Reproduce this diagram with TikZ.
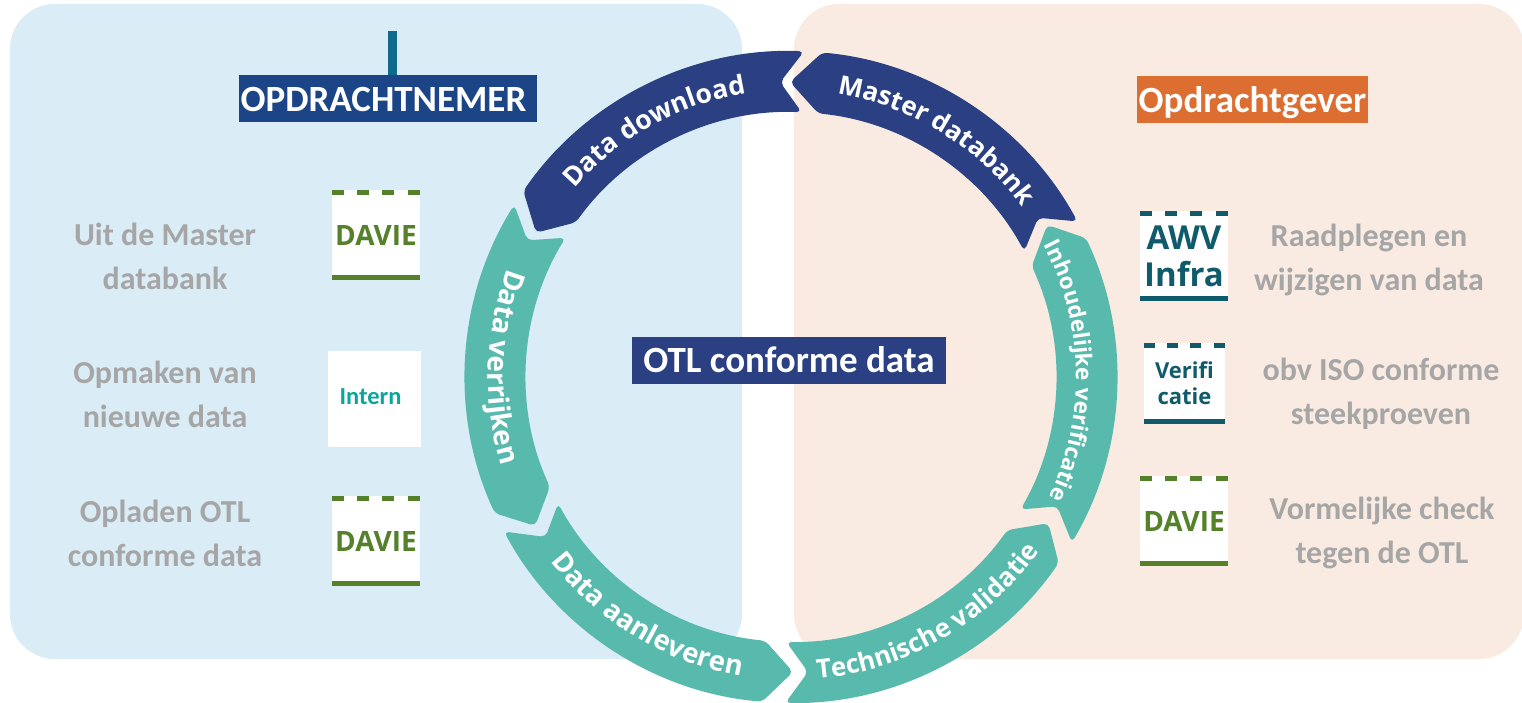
\documentclass[tikz,border=0pt]{standalone}
\usepackage{fontspec}
\setmainfont{Carlito}
\newfontfamily\ringf{Open Sans}
\usetikzlibrary{decorations.text}
\definecolor{bluebg}{HTML}{DAECF6}
\definecolor{peachbg}{HTML}{F9EBE2}
\definecolor{navy}{HTML}{2A4083}
\definecolor{ltnavy}{HTML}{1C4587}
\definecolor{teal2}{HTML}{57BAAD}
\definecolor{orng}{HTML}{DC6E32}
\definecolor{tick}{HTML}{0F6A8C}
\definecolor{greyt}{HTML}{A6A6A6}
\definecolor{davie}{HTML}{55812A}
\definecolor{awv}{HTML}{0F5A6B}
\definecolor{intern}{HTML}{0CA59C}
\tikzset{
  x=1pt,y=1pt,
  panel/.style={rounded corners=45},
  banner/.style={inner sep=0,minimum height=47,text=white,text depth=0pt,font=\bfseries\fontsize{37}{37}\selectfont,anchor=center},
  grey/.style={text=greyt,align=center,font=\bfseries\fontsize{32}{44}\selectfont,inner sep=0},
  icon/.style={fill=white,inner sep=0,align=center},
  ringnavy/.style={fill=navy,rounded corners=5},
  ringteal/.style={fill=teal2,rounded corners=5},
  topbar/.style={line width=5,dash pattern=on 12 off 13.33},
  botbar/.style={line width=5}
}
\newcommand{\ringlabel}[5]{%
  \path[decorate,decoration={text along path,text align=center,
    text={|\ringf\bfseries\fontsize{#5}{#5}\selectfont\color{white}|#4}}]
    (#1:#3) arc[start angle=#1,end angle=#2,radius=#3];}
\begin{document}
\begin{tikzpicture}
\useasboundingbox (0,0) rectangle (1522,702);
\fill[white] (0,0) rectangle (1522,702);
% panels (y = 702 - image y)
\fill[bluebg,panel] (10,43) rectangle (742,698);
\fill[peachbg,panel] (794,43) rectangle (1524,698);
\fill[tick] (388,627) rectangle (397,671);
% banners
\node[banner,fill=ltnavy,minimum width=298,text height=26.4pt] (nemer) at (388,603.5) {OPDRACHTNEMER\hspace*{9pt}};
\node[banner,fill=orng,minimum width=231,text height=26.4pt] (gever) at (1252.5,602.5) {Opdrachtgever};
\node[banner,fill=navy,minimum width=314,text height=24.4pt] (otl) at (789,341.5) {OTL conforme data};
% ring
\begin{scope}[shift={(791,325)}]
\fill[ringnavy] (87.7:326) arc[start angle=87.7,end angle=145.2,radius=326] -- (150.5:293) -- (144.3:265) arc[start angle=144.3,end angle=87.7,radius=265] -- (92.1:295) -- cycle;
\fill[ringnavy] (90.2:295) -- (84.5:326) arc[start angle=84.5,end angle=28.5,radius=326] -- (32.8:294) -- (28.3:265) arc[start angle=28.3,end angle=84.1,radius=265] -- cycle;
\fill[ringteal] (30.7:298) -- (25.2:326) arc[start angle=25.2,end angle=-30.5,radius=326] -- (-25.9:296) -- (-30:265) arc[start angle=-30,end angle=24.7,radius=265] -- cycle;
\fill[ringteal] (-29.6:296) -- (-34.8:326) arc[start angle=-34.8,end angle=-91,radius=326] -- (-86.7:295.5) -- (-91:265) arc[start angle=-91,end angle=-35.3,radius=265] -- cycle;
\fill[ringteal] (-89.6:295) -- (-95.6:265) arc[start angle=-95.6,end angle=-151.5,radius=265] -- (-146.9:293) -- (-151.7:326) arc[start angle=-151.7,end angle=-95.1,radius=326] -- cycle;
\fill[ringteal] (-149.8:296) -- (-155.5:265) arc[start angle=-155.5,end angle=-211.7,radius=265] -- (-207.4:297) -- (-211.9:326) arc[start angle=-211.9,end angle=-155.3,radius=326] -- cycle;
\ringlabel{161}{77}{287}{Data download}{26.5}
\ringlabel{101}{16}{287}{Master databank}{26}
\ringlabel{49.8}{-47.2}{285}{Inhoudelijke verificatie}{22.6}
\ringlabel{-102}{-18}{303}{Technische validatie}{26}
\ringlabel{-163}{-79}{303}{Data aanleveren}{27.5}
\ringlabel{-224}{-140}{303}{Data verrijken}{28}
\end{scope}
% left texts
\node[grey] (t1) at (165,446) {Uit de Master\\databank};
\node[grey] (t2) at (165,308) {Opmaken van\\nieuwe data};
\node[grey] (t3) at (165,169) {Opladen OTL\\conforme data};
% right texts
\node[grey] (t4) at (1369,442) {Raadplegen en\\wijzigen van data};
\node[grey] (t5) at (1381,308) {obv ISO conforme\\steekproeven};
\node[grey] (t6) at (1382,169) {Vormelijke check\\tegen de OTL};
% icons
\node[icon,minimum width=88,minimum height=90,text=davie,font=\ringf\bfseries\fontsize{28}{28}\selectfont] (d1) at (376,467) {DAVIE};
\draw[davie,topbar] ([yshift=-2.5]d1.north west) -- ([yshift=-2.5]d1.north east);
\draw[davie,botbar] ([yshift=2.5]d1.south west) -- ([yshift=2.5]d1.south east);
\node[icon,minimum width=93,minimum height=96,text=intern,font=\bfseries\fontsize{24.5}{24.5}\selectfont] (i1) at (374.5,303) {\raisebox{4pt}{Intern}\hspace*{8pt}};
\node[icon,minimum width=88,minimum height=90,text=davie,font=\ringf\bfseries\fontsize{28}{28}\selectfont] (d2) at (376,161) {DAVIE};
\draw[davie,topbar] ([yshift=-2.5]d2.north west) -- ([yshift=-2.5]d2.north east);
\draw[davie,botbar] ([yshift=2.5]d2.south west) -- ([yshift=2.5]d2.south east);
\node[icon,minimum width=88,minimum height=90,text=awv,font=\ringf\bfseries\fontsize{33}{37}\selectfont] (a1) at (1184,446) {AWV\\Infra};
\draw[awv,topbar] ([yshift=-2.5]a1.north west) -- ([yshift=-2.5]a1.north east);
\draw[awv,botbar] ([yshift=2.5]a1.south west) -- ([yshift=2.5]a1.south east);
\node[icon,minimum width=81,minimum height=81,text=awv,font=\ringf\bfseries\fontsize{22}{26}\selectfont] (v1) at (1184.5,318.5) {Verifi\\catie};
\draw[awv,line width=5,dash pattern=on 11 off 12.33] ([yshift=-2.5]v1.north west) -- ([yshift=-2.5]v1.north east);
\draw[awv,botbar] ([yshift=2.5]v1.south west) -- ([yshift=2.5]v1.south east);
\node[icon,minimum width=88,minimum height=90,text=davie,font=\ringf\bfseries\fontsize{28}{28}\selectfont] (d3) at (1184,181) {DAVIE};
\draw[davie,topbar] ([yshift=-2.5]d3.north west) -- ([yshift=-2.5]d3.north east);
\draw[davie,botbar] ([yshift=2.5]d3.south west) -- ([yshift=2.5]d3.south east);
\end{tikzpicture}
\end{document}
